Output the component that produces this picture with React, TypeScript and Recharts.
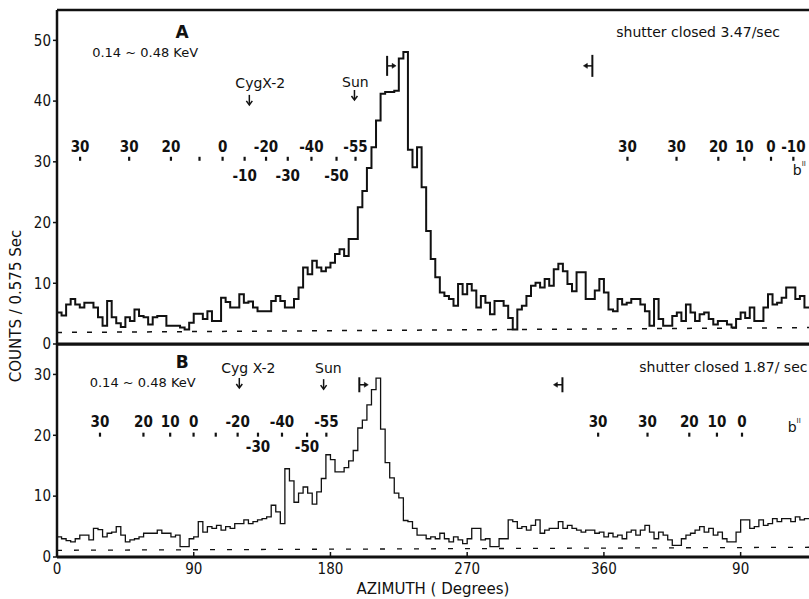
import React from 'react';
import { LineChart, Line, XAxis, YAxis, ReferenceLine, ReferenceDot } from 'recharts';

// ---------- data ----------
const BIN_DEG = 3;
const AZ_MAX = 495;
const azTicks = [0, 90, 180, 270, 360, 450];
const yTicksA = [0, 10, 20, 30, 40, 50];
const yTicksB = [0, 10, 20, 30];

// counts per 0.575 s, 3-degree azimuth bins starting at 0
const countsA = [
  5.2, 4.7, 6.5, 7.4, 6.5, 6.0, 6.8, 6.8, 6.0, 4.4,
  3.0, 7.1, 4.4, 3.4, 2.8, 4.4, 3.8, 5.7, 4.6, 4.4,
  3.2, 4.4, 4.6, 4.6, 3.0, 3.0, 3.0, 2.7, 2.4, 3.5,
  5.0, 5.0, 4.1, 5.4, 3.8, 3.8, 7.6, 6.9, 6.0, 6.0,
  8.2, 6.8, 7.0, 6.0, 5.4, 5.4, 5.4, 7.1, 7.9, 7.1,
  6.0, 6.0, 7.4, 9.3, 12.6, 11.5, 13.7, 12.6, 12.0, 12.6,
  13.4, 14.8, 15.6, 14.5, 17.3, 17.3, 22.5, 25.2, 29.0, 32.4,
  36.8, 41.2, 41.5, 41.5, 41.7, 47.0, 48.1, 32.0, 29.1, 32.4,
  25.8, 18.6, 14.0, 11.0, 8.5, 7.9, 7.4, 6.3, 9.9, 8.2,
  9.9, 8.8, 6.0, 7.9, 6.8, 4.9, 7.1, 7.1, 6.3, 4.3,
  2.4, 5.7, 6.3, 7.9, 9.6, 10.1, 9.3, 10.7, 9.6, 12.3,
  13.2, 12.0, 9.9, 8.7, 11.8, 11.8, 7.4, 7.4, 8.8, 10.7,
  8.5, 5.7, 5.4, 7.4, 6.5, 6.8, 7.4, 7.4, 6.5, 5.4,
  3.0, 7.4, 4.1, 3.0, 3.0, 4.6, 5.2, 3.8, 6.5, 5.2,
  3.8, 4.9, 5.2, 4.1, 3.2, 3.8, 3.8, 3.2, 2.7, 4.1,
  5.2, 4.3, 6.0, 3.8, 3.8, 6.0, 8.2, 6.5, 6.8, 7.6,
  9.3, 9.3, 7.4, 7.9, 6.0,
];

const countsB = [
  3.3, 3.0, 2.7, 2.5, 3.0, 3.6, 3.6, 2.8, 4.7, 4.5,
  3.3, 3.9, 4.1, 5.0, 3.6, 2.5, 2.8, 3.0, 3.3, 3.9,
  3.9, 3.9, 4.4, 3.9, 3.9, 3.3, 3.6, 1.7, 1.7, 3.0,
  3.3, 5.8, 4.1, 5.0, 4.7, 5.2, 4.4, 5.0, 4.7, 5.5,
  5.5, 6.1, 5.5, 5.8, 6.1, 6.3, 6.6, 8.5, 7.4, 5.5,
  14.5, 12.5, 9.0, 10.5, 11.5, 10.5, 8.7, 10.7, 12.9, 16.8,
  16.0, 14.0, 14.0, 14.7, 15.8, 17.5, 21.2, 22.5, 25.0, 27.5,
  29.4, 21.0, 15.5, 13.0, 10.5, 9.7, 6.0, 5.8, 4.7, 3.6,
  3.6, 3.0, 3.3, 3.0, 3.9, 3.0, 2.5, 3.3, 2.8, 2.2,
  3.0, 4.7, 4.7, 2.8, 3.0, 1.7, 1.7, 3.0, 3.0, 6.1,
  5.8, 4.7, 5.0, 4.4, 5.2, 6.1, 3.9, 4.4, 4.7, 4.7,
  5.8, 4.7, 5.2, 4.7, 4.4, 4.1, 4.4, 4.4, 3.9, 4.1,
  3.3, 3.9, 3.3, 3.6, 3.0, 4.1, 4.4, 3.6, 4.4, 5.2,
  4.1, 3.0, 4.1, 3.6, 2.8, 1.9, 1.9, 3.0, 3.6, 3.9,
  4.4, 5.0, 4.1, 4.7, 3.6, 4.1, 3.0, 2.5, 2.5, 4.1,
  6.1, 6.1, 4.7, 5.0, 6.1, 5.2, 5.5, 6.3, 5.8, 6.3,
  6.3, 5.8, 6.6, 6.1, 6.3,
];

// shutter-closed background (dashed), value at start and end of scan
const shutterA = [1.9, 2.7];
const shutterB = [1.1, 1.6];

// galactic latitude marks: azimuth, label, label below mark?
const latAzA = [15.2, 47.5, 75, 93.8, 109, 123.5, 137.6, 151.9, 167.5, 184, 196.5, 375.5, 407.8, 435.3, 452.4, 470, 484.7];
const latLabA = ['30', '30', '20', '', '0', '-10', '-20', '-30', '-40', '-50', '-55', '30', '30', '20', '10', '0', '-10'];
const latBelowA = [0, 0, 0, 0, 0, 1, 0, 1, 0, 1, 0, 0, 0, 0, 0, 0, 0];
const latLevelA = 30.5;

const latAzB = [28.3, 56.9, 74.5, 89.9, 104.5, 118.9, 132.3, 148.1, 164.6, 177.3, 356.2, 388.7, 416.2, 434.4, 450.9];
const latLabB = ['30', '20', '10', '0', '', '-20', '-30', '-40', '-50', '-55', '30', '30', '20', '10', '0'];
const latBelowB = [0, 0, 0, 0, 0, 0, 1, 0, 1, 0, 0, 0, 0, 0, 0];
const latLevelB = 20.1;

const fmtAz = (v: number) => String(v > 360 ? v - 360 : v);

// ---------- styling ----------
const INK = '#111';
const FONT = "'DejaVu Sans', 'Liberation Sans', sans-serif";
const FONT_C = "'DejaVu Sans Condensed', 'DejaVu Sans', sans-serif";

const rowsA = [...countsA.map((c, i) => ({ az: i * BIN_DEG, c })), { az: AZ_MAX, c: countsA[countsA.length - 1] }];
const rowsB = [...countsB.map((c, i) => ({ az: i * BIN_DEG, c })), { az: AZ_MAX, c: countsB[countsB.length - 1] }];

const txt = (extra: any = {}) => ({ fill: INK, fontFamily: FONT, dominantBaseline: 'central', textAnchor: 'middle', ...extra });

const labelShape = (text: string, size: number, extra: any = {}) => (p: any) => (
  <text x={p.cx} y={p.cy} fontSize={size} {...txt(extra)}>{text}</text>
);

const downArrow = (p: any) => (
  <g stroke={INK} strokeWidth={1.5} fill="none">
    <line x1={p.cx} x2={p.cx} y1={p.cy - 5} y2={p.cy + 4} />
    <polyline points={`${p.cx - 3},${p.cy + 1} ${p.cx},${p.cy + 5} ${p.cx + 3},${p.cy + 1}`} />
  </g>
);

const edgeMarker = (dir: number, h: number) => (p: any) => (
  <g stroke={INK} strokeWidth={2} fill={INK}>
    <line x1={p.cx} x2={p.cx} y1={p.cy - h / 2} y2={p.cy + h / 2} />
    <line x1={p.cx} x2={p.cx + dir * 6} y1={p.cy} y2={p.cy} strokeWidth={1.5} />
    <polygon strokeWidth={0.5} points={`${p.cx + dir * 9},${p.cy} ${p.cx + dir * 5},${p.cy - 2.5} ${p.cx + dir * 5},${p.cy + 2.5}`} />
  </g>
);

const bShape = (p: any) => (
  <text x={p.cx} y={p.cy} fontSize={14} {...txt({ textAnchor: 'start' })}>
    b<tspan fontSize={7} dy={-6}>II</tspan>
  </text>
);

const latShape = (label: string, below: boolean, up: number, down: number) => (p: any) => (
  <g>
    <line x1={p.cx} x2={p.cx} y1={p.cy - 2} y2={p.cy + 2} stroke={INK} strokeWidth={2.2} />
    {label ? (
      <text x={p.cx} y={below ? p.cy + down : p.cy - up} fontSize={15} fontWeight={600}
        {...txt({ fontFamily: FONT_C })}>{label}</text>
    ) : null}
  </g>
);

const XTick = (props: any) => {
  const { x, y, payload } = props;
  return (
    <g>
      <line x1={x} x2={x} y1={y - 5} y2={y} stroke={INK} strokeWidth={1.5} />
      <text x={x} y={y + 12} fontSize={15} {...txt({ fontFamily: FONT_C })}>{fmtAz(payload.value)}</text>
    </g>
  );
};

const yTickStyle = { fontSize: 15, fill: INK, fontFamily: FONT_C };

export default function App() {
  return (
    <div style={{ position: 'absolute', left: 0, top: 0, width: 809, height: 599, background: '#fff', overflow: 'hidden' }}>
      {/* Panel A */}
      <div style={{ position: 'absolute', left: 0, top: 0 }}>
        <LineChart width={809} height={360} data={rowsA} margin={{ top: 10, right: 0, bottom: 16, left: 0 }}>
          <XAxis dataKey="az" type="number" domain={[0, AZ_MAX]} hide allowDataOverflow />
          <YAxis type="number" domain={[0, 55]} ticks={yTicksA} width={57} interval={0}
            axisLine={{ stroke: INK, strokeWidth: 2.5 }} tickLine={{ stroke: INK, strokeWidth: 1.5 }}
            tickSize={4} tickMargin={2} tick={yTickStyle} allowDataOverflow />
          <ReferenceLine y={55} stroke={INK} strokeWidth={2.5} />
          <ReferenceLine y={0} stroke={INK} strokeWidth={3} />
          <ReferenceLine segment={[{ x: 0, y: shutterA[0] }, { x: AZ_MAX, y: shutterA[1] }]} stroke={INK} strokeWidth={1.5} strokeDasharray="5 10" />
          <Line type="stepAfter" dataKey="c" stroke={INK} strokeWidth={2} dot={false} activeDot={false} isAnimationActive={false} />
          {latAzA.map((az, i) => (
            <ReferenceDot key={'la' + i} x={az} y={latLevelA} r={1} shape={latShape(latLabA[i], !!latBelowA[i], 12, 17)} />
          ))}
          <ReferenceDot x={484.3} y={28.7} r={1} shape={bShape} />
          <ReferenceDot x={82.4} y={51.4} r={1} shape={labelShape('A', 17, { fontWeight: 700 })} />
          <ReferenceDot x={58} y={48} r={1} shape={labelShape('0.14 ~ 0.48 KeV', 13)} />
          <ReferenceDot x={133.8} y={42.9} r={1} shape={labelShape('CygX-2', 14)} />
          <ReferenceDot x={126.6} y={40.2} r={1} shape={downArrow} />
          <ReferenceDot x={196.4} y={43.1} r={1} shape={labelShape('Sun', 14)} />
          <ReferenceDot x={195.8} y={41.0} r={1} shape={downArrow} />
          <ReferenceDot x={217.3} y={45.8} r={1} shape={edgeMarker(1, 20)} />
          <ReferenceDot x={352.4} y={45.8} r={1} shape={edgeMarker(-1, 22)} />
          <ReferenceDot x={422} y={51.3} r={1} shape={labelShape('shutter closed  3.47/sec', 14)} />
        </LineChart>
      </div>

      {/* Panel B */}
      <div style={{ position: 'absolute', left: 0, top: 344 }}>
        <LineChart width={809} height={255} data={rowsB} margin={{ top: 0, right: 0, bottom: 0, left: 0 }}>
          <XAxis dataKey="az" type="number" domain={[0, AZ_MAX]} ticks={azTicks} interval={0} height={42}
            axisLine={{ stroke: INK, strokeWidth: 3 }} tickLine={false} tickSize={0} tickMargin={0}
            tick={<XTick />} allowDataOverflow
            label={{ value: 'AZIMUTH ( Degrees)', position: 'insideBottom', offset: 5, fill: INK, fontSize: 15, fontFamily: FONT }} />
          <YAxis type="number" domain={[0, 35]} ticks={yTicksB} width={57} interval={0}
            axisLine={{ stroke: INK, strokeWidth: 2.5 }} tickLine={{ stroke: INK, strokeWidth: 1.5 }}
            tickSize={4} tickMargin={2} tick={yTickStyle} allowDataOverflow />
          <ReferenceLine y={35} stroke={INK} strokeWidth={3} />
          <ReferenceLine segment={[{ x: 0, y: shutterB[0] }, { x: AZ_MAX, y: shutterB[1] }]} stroke={INK} strokeWidth={1.3} strokeDasharray="5 12" />
          <Line type="stepAfter" dataKey="c" stroke={INK} strokeWidth={1.3} dot={false} activeDot={false} isAnimationActive={false} />
          {latAzB.map((az, i) => (
            <ReferenceDot key={'lb' + i} x={az} y={latLevelB} r={1} shape={latShape(latLabB[i], !!latBelowB[i], 13, 12)} />
          ))}
          <ReferenceDot x={481} y={21.4} r={1} shape={bShape} />
          <ReferenceDot x={82.4} y={32} r={1} shape={labelShape('B', 17, { fontWeight: 700 })} />
          <ReferenceDot x={56.4} y={28.7} r={1} shape={labelShape('0.14 ~ 0.48 KeV', 13)} />
          <ReferenceDot x={126} y={31.1} r={1} shape={labelShape('Cyg X-2', 14)} />
          <ReferenceDot x={120} y={28.6} r={1} shape={downArrow} />
          <ReferenceDot x={178.6} y={31.1} r={1} shape={labelShape('Sun', 14)} />
          <ReferenceDot x={175.5} y={28.4} r={1} shape={downArrow} />
          <ReferenceDot x={199} y={28.3} r={1} shape={edgeMarker(1, 15)} />
          <ReferenceDot x={332.7} y={28.3} r={1} shape={edgeMarker(-1, 15)} />
          <ReferenceDot x={494} y={31.3} r={1} shape={labelShape('shutter closed 1.87/ sec', 14, { textAnchor: 'end' })} />
        </LineChart>
      </div>

      {/* shared y-axis title */}
      <svg width={809} height={599} style={{ position: 'absolute', left: 0, top: 0, pointerEvents: 'none' }}>
        <text transform="translate(16,306) rotate(-90)" fontSize={15} {...txt()}>COUNTS / 0.575 Sec</text>
      </svg>
    </div>
  );
}
